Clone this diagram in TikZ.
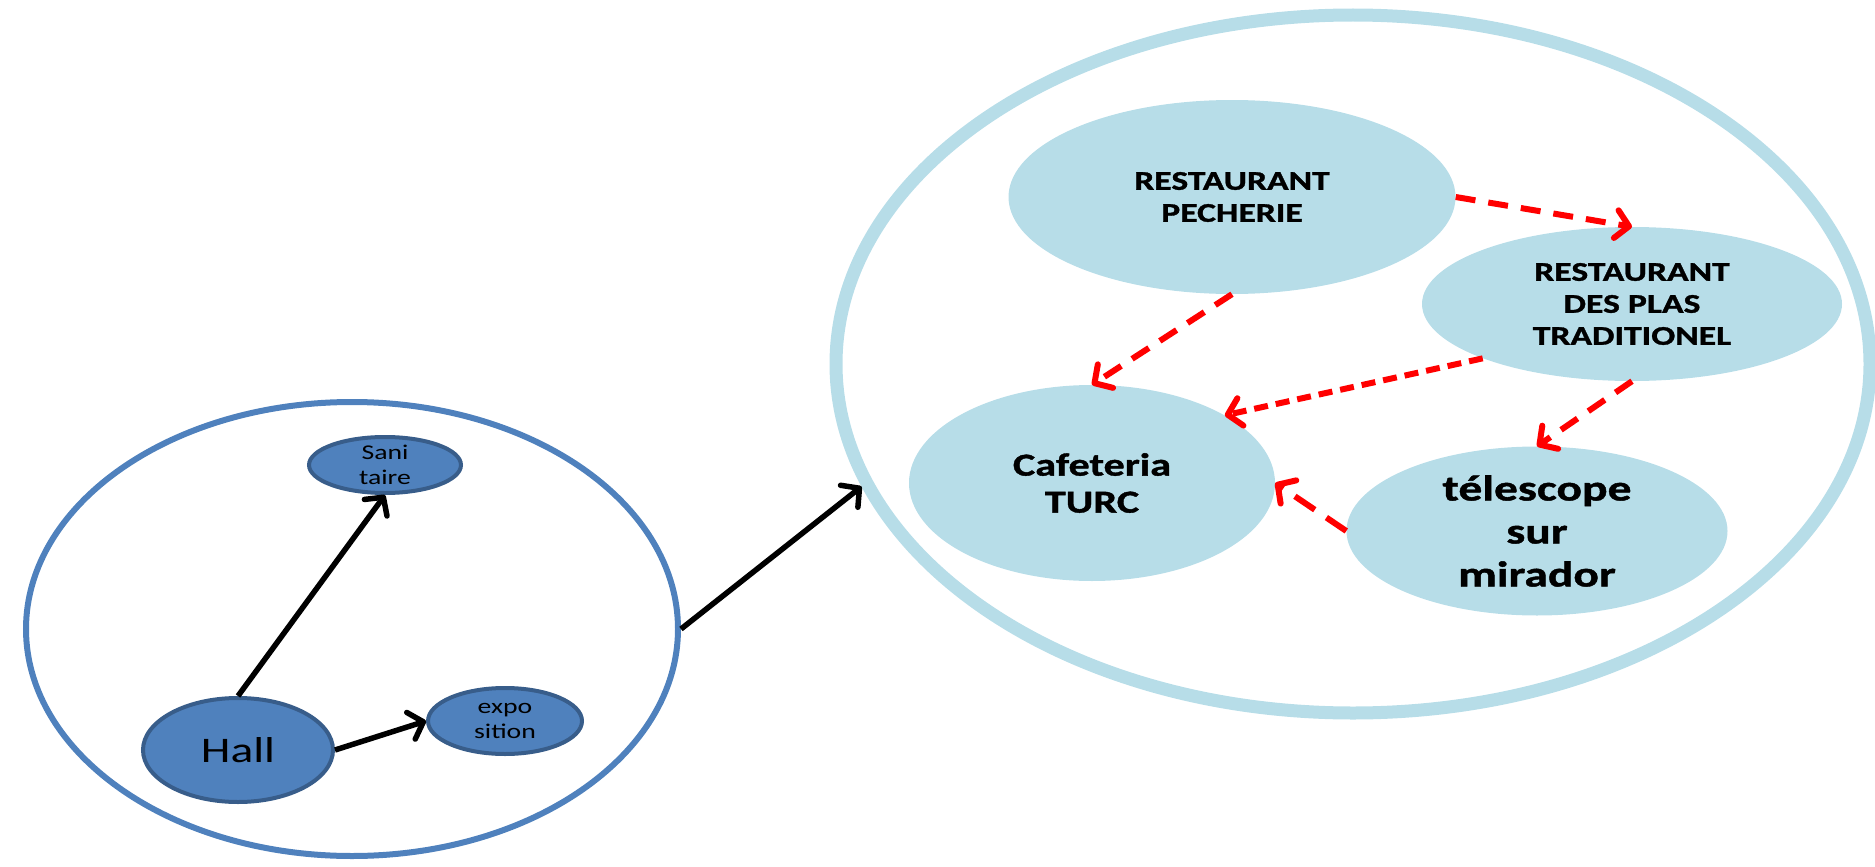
\documentclass[tikz,border=0pt]{standalone}
\usepackage{fontspec}
\setmainfont{Carlito}[FakeStretch=1.32, BoldFeatures={FakeBold=1.2}]
\usetikzlibrary{shapes.geometric,arrows.meta}
\definecolor{grpblue}{RGB}{79,129,189}
\definecolor{grpedge}{RGB}{56,93,138}
\definecolor{lightaqua}{RGB}{183,221,232}
\begin{document}
\begin{tikzpicture}[x=1pt,y=-1pt,
  grp/.style={ellipse, line width=6pt, inner sep=0pt},
  small/.style={ellipse, fill=grpblue, draw=grpedge, line width=4pt, inner sep=0pt, align=center},
  room/.style={ellipse, fill=lightaqua, inner sep=0pt, align=center},
  blk/.style={line width=5.5pt, -{Straight Barb[length=13pt,width=28pt,round]}},
  flow/.style={draw=red, line width=6pt, dash pattern=on 20pt off 13pt, -{Straight Barb[length=13pt,width=28pt,round]}},
  flowdense/.style={flow, dash pattern=on 14pt off 8pt}
]
\useasboundingbox (0,0) rectangle (1875,867);

% groups
\node[grp, draw=grpblue, minimum width=652pt, minimum height=454pt] (left) at (352,629) {};
\node[grp, draw=lightaqua, line width=13pt, minimum width=1034pt, minimum height=698pt] (right) at (1353,364) {};

% left nodes
\node[small, minimum width=190pt, minimum height=104pt, font=\fontsize{36}{42}\selectfont] (hall) at (238,750) {Hall};
\node[small, minimum width=152pt, minimum height=50pt, font=\fontsize{21}{25}\selectfont] (sani) at (385,465) {Sani\\taire};
\node[small, minimum width=154pt, minimum height=66pt, font=\fontsize{21}{25}\selectfont] (expo) at (505,721) {expo\\sition};

% right nodes
\node[room, minimum width=447pt, minimum height=194pt, font=\bfseries\fontsize{27}{32}\selectfont] (pech) at (1232,197) {RESTAURANT\\PECHERIE};
\node[room, minimum width=420pt, minimum height=154pt, font=\bfseries\fontsize{27}{32}\selectfont] (plas) at (1632,304) {RESTAURANT\\DES PLAS\\TRADITIONEL};
\node[room, minimum width=366pt, minimum height=196pt, font=\bfseries\fontsize{32}{37}\selectfont] (caf) at (1092,483) {Cafeteria\\TURC};
\node[room, minimum width=381pt, minimum height=169pt, font=\bfseries\fontsize{36}{43}\selectfont] (tele) at (1537,531) {télescope\\sur\\mirador};

% black arrows
\draw[blk] (hall.north) -- (sani.south);
\draw[blk] (hall.east) -- (expo.west);
\draw[blk] (left.east) -- (right.194);

% red arrows
\draw[flow] (pech.east) -- (plas.north);
\draw[flow] (pech.south) -- (caf.north);
\draw[flowdense] (plas.200) -- (caf.27);
\draw[flow] (plas.south) -- (tele.north);
\draw[flow, dash pattern=on 24pt off 14pt] (tele.west) -- (caf.east);
\end{tikzpicture}
\end{document}
